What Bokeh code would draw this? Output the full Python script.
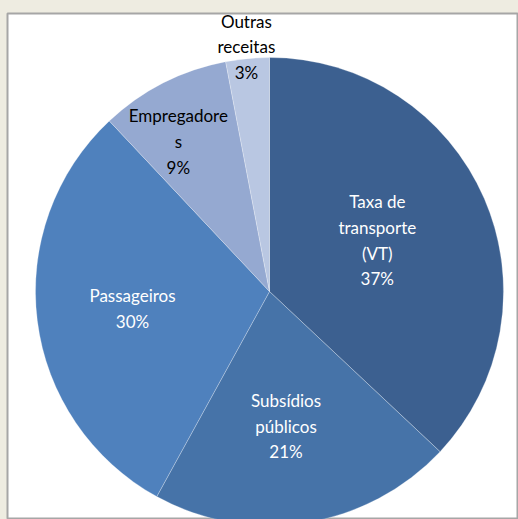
import math
from bokeh.plotting import figure
from bokeh.models import Range1d, ColumnDataSource, GlobalInlineStyleSheet
from bokeh.core.properties import value
from bokeh.embed import file_html
from bokeh.resources import INLINE

# ---- data ----
categories = ["Taxa de transporte (VT)", "Subsídios públicos", "Passageiros", "Empregadores", "Outras receitas"]
label_names = ["Taxa de\ntransporte\n(VT)", "Subsídios\npúblicos", "Passageiros", "Empregadore\ns", "Outras\nreceitas"]
shares = [37, 21, 30, 9, 3]

# ---- style ----
colors = ["#3C6090", "#4673A8", "#4F81BD", "#95A9D1", "#B9C7E2"]
label_colors = ["#FFFFFF", "#FFFFFF", "#FFFFFF", "#000000", "#000000"]
label_radius = [0.51, 0.58, 0.59, 0.75, 1.05]
label_angle_shift = [-2.0, 2.0, 0.0, -4.3, 0.0]  # degrees, label placement tweak

BEIGE = "#EEECE1"
CX, CY, R = 269, 228, 234  # centre / radius in frame pixel units

total = float(sum(shares))
starts, ends, lx, ly, texts = [], [], [], [], []
cum = 0.0
for i, s in enumerate(shares):
    f0 = cum / total
    f1 = (cum + s) / total
    cum += s
    starts.append(math.pi / 2 - 2 * math.pi * f0)
    ends.append(math.pi / 2 - 2 * math.pi * f1)
    mid = 2 * math.pi * (f0 + f1) / 2 + math.radians(label_angle_shift[i])
    lx.append(CX + label_radius[i] * R * math.sin(mid))
    ly.append(CY + label_radius[i] * R * math.cos(mid))
    texts.append(f"{label_names[i]}\n{s}%")

src = ColumnDataSource(dict(cat=categories, start=starts, end=ends, color=colors,
                            lx=lx, ly=ly, text=texts, tcolor=label_colors))

p = figure(width=518, height=519, output_backend="svg", toolbar_location=None,
           x_axis_type=None, y_axis_type=None,
           x_range=Range1d(7, 518), y_range=Range1d(0, 506),
           min_border_left=7, min_border_top=13, min_border_right=0, min_border_bottom=0)
p.border_fill_color = BEIGE
p.background_fill_color = "#FFFFFF"
p.outline_line_color = "#A6A6A6"
p.outline_line_width = 2
p.grid.visible = False
p.stylesheets = [GlobalInlineStyleSheet(css=f"html, body {{ background-color: {BEIGE}; }}")]

p.wedge(x=CX, y=CY, radius=R, radius_units="screen", start_angle="start", end_angle="end",
        direction="clock", fill_color="color", line_color="#FFFFFF", line_alpha=0.35,
        line_width=0.75, source=src)

p.text(x="lx", y="ly", text="text", text_color="tcolor", text_align="center",
       text_baseline="middle", text_font=value("Lato"), text_font_size="17px",
       text_line_height=1.22, source=src)

open("out.html", "w").write(file_html(p, INLINE))
